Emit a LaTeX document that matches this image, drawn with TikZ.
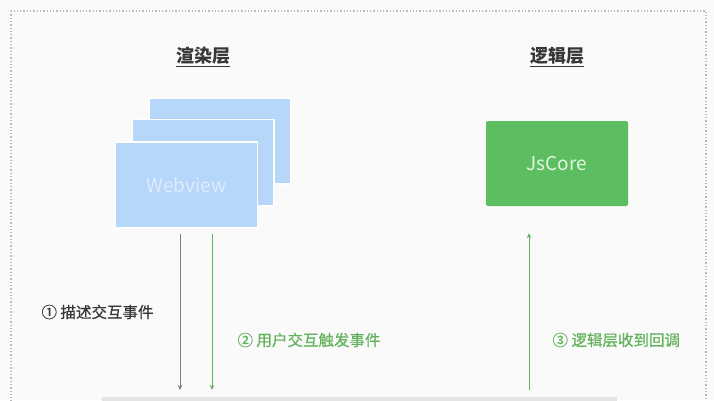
\documentclass[tikz,border=0pt]{standalone}
\usepackage{fontspec}
\setmainfont{Noto Sans CJK SC}
\usetikzlibrary{arrows.meta}
\definecolor{webblue}{RGB}{182,214,250}
\definecolor{webtext}{RGB}{222,236,252}
\definecolor{coregreen}{RGB}{92,190,96}
\definecolor{coretext}{RGB}{226,246,222}
\definecolor{msggreen}{RGB}{98,178,92}
\definecolor{msggray}{RGB}{125,125,125}
\definecolor{txtgray}{RGB}{55,55,55}

\begin{document}
\begin{tikzpicture}[x=1pt,y=-1pt,
  page/.style={fill=webblue,draw=white,line width=1.2pt,minimum width=142pt,minimum height=86pt,inner sep=0pt},
  title/.style={font=\fontsize{18}{20}\selectfont\bfseries,text=txtgray},
  msg/.style={font=\fontsize{15.5}{17}\selectfont\addfontfeature{FakeBold=0.6},anchor=west},
  flow/.style={-{Stealth[length=5pt,width=4.5pt]},line width=0.9pt}]
\useasboundingbox[fill=gray!4] (0,0) rectangle (714,400);
\clip (0,0) rectangle (714,400);
\draw[gray!55,dotted,line width=1.3pt] (11,11) rectangle (706,430);

% titles
\node[title] (render) at (203,57) {\underline{渲染层}};
\node[title] (logic) at (557,57) {\underline{逻辑层}};

% webview stack
\node[page] (back) at (220,141) {};
\node[page] (mid) at (203,162.5) {};
\node[page,text=webtext,font=\fontsize{19}{21}\selectfont] (webview) at (186.5,185) {Webview};

% jscore
\node[fill=coregreen,rounded corners=2pt,minimum width=142pt,minimum height=85pt,inner sep=0pt,
  text=coretext,font=\fontsize{19}{21}\selectfont] (jscore) at (557,163.5) {JsCore};

% bottom bar
\node[fill=gray!22,minimum width=515pt,minimum height=20pt,inner sep=0pt,anchor=north west] (bar) at (102,397) {};

\coordinate (c1) at (180,0);
\coordinate (c2) at (212,0);
\coordinate (c3) at (529,0);
\draw[flow,msggray,shorten <=5pt,shorten >=7pt] (webview.south -| c1) -- (bar.north -| c1);
\draw[flow,msggreen,shorten <=5pt,shorten >=7pt] (webview.south -| c2) -- (bar.north -| c2);
\draw[flow,msggreen,shorten <=7pt,shorten >=27pt] (bar.north -| c3) -- (jscore.south -| c3);

\node[msg,text=txtgray] (m1) at (38,312) {① 描述交互事件};
\node[msg,text=msggreen] (m2) at (234,340) {② 用户交互触发事件};
\node[msg,text=msggreen] (m3) at (549,340) {③ 逻辑层收到回调};
\end{tikzpicture}
\end{document}
